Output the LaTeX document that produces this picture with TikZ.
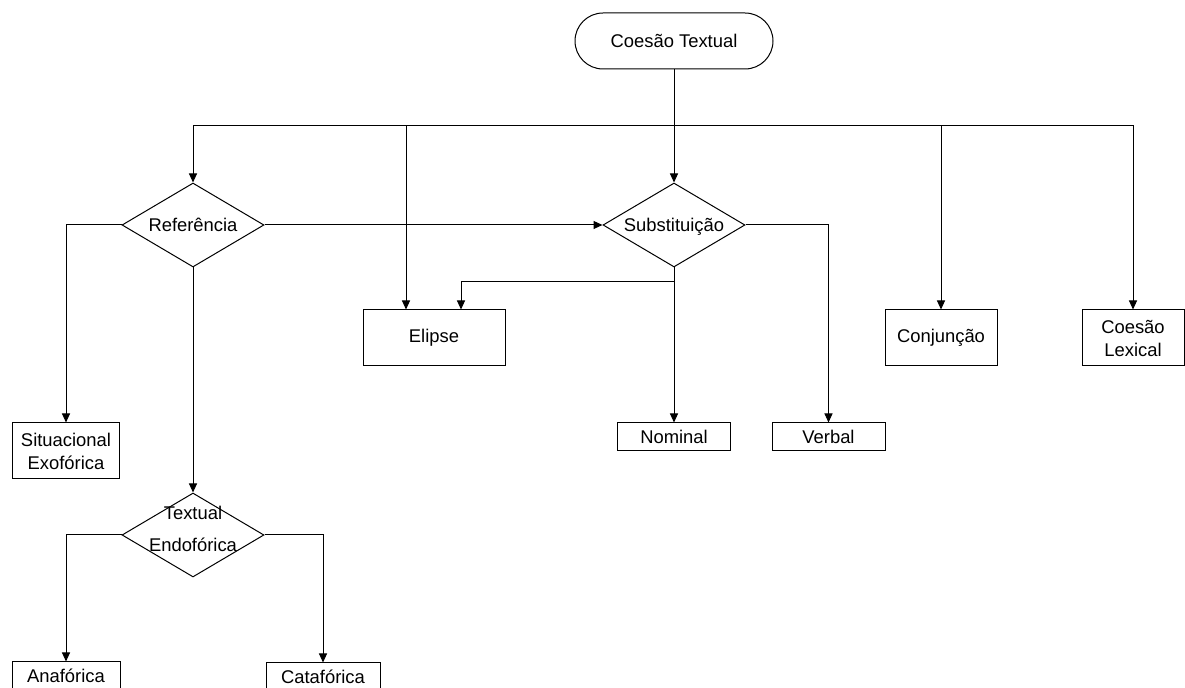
\documentclass[tikz,border=0pt]{standalone}
\usepackage{fontspec}
\setmainfont{Liberation Sans}
\usetikzlibrary{shapes.geometric,arrows.meta}

\begin{document}
\begin{tikzpicture}[
  x=0.5pt, y=-0.5pt,
  font=\fontsize{9.2}{11.5}\selectfont,
  % Node styles
  terminal/.style={rectangle, draw=black, rounded corners=14pt, minimum width=99pt, minimum height=28pt, line width=0.5pt},
  decision/.style={diamond, draw=black, inner sep=0pt, minimum width=71pt, minimum height=42pt, line width=0.5pt},
  process/.style={rectangle, draw=black, align=center, inner sep=1pt, minimum height=28pt, line width=0.5pt},
  smallbox/.style={rectangle, draw=black, align=center, inner sep=1pt, minimum height=14pt, line width=0.5pt},
  % Connector styles
  arrow/.style={line width=0.5pt, black, -{Triangle[length=4.5pt,width=4pt]}}
]
\useasboundingbox (0,0) rectangle (1185,688);

% Layer 1: Top terminal and decisions
\node[terminal] (cohesion) at (674,41) {Coesão Textual};
\node[decision, label={center:Referência}] (reference) at (193,225) {};
\node[decision, label={[yshift=-1pt]center:Substituição}] (substitution) at (674,225) {};
\node[decision, label={[align=center, yshift=3pt, font=\fontsize{9.2}{16}\selectfont]center:Textual\\Endofórica}] (textual) at (193,535) {};

% Layer 2: Boxes
\node[process, minimum width=53.5pt] (situational) at (66,451) {Situacional\\Exofórica};
\node[process, minimum width=71pt] (ellipsis) at (434,338) {Elipse};
\node[process, minimum width=56pt] (conjunction) at (941,338) {Conjunção};
\node[process, minimum width=51pt] (lexical) at (1133,338) {Coesão\\Lexical};
\node[smallbox, minimum width=56.5pt] (nominal) at (674,437) {Nominal};
\node[smallbox, minimum width=56.5pt] (verbal) at (828.5,437) {Verbal};
\node[smallbox, minimum width=54pt] (anaphoric) at (66,676) {Anafórica};
\node[smallbox, minimum width=57pt] (cataphoric) at (323,677) {Catafórica};

% Layer 3: Branch points
\coordinate (bus) at (674,126);
\coordinate (fork) at (674,282);

% Layer 4: Connectors from the top
\draw[arrow] (cohesion) -- (substitution);
\draw[arrow] (bus) -| (reference.north);
\draw[arrow] (bus) -| ([xshift=-14pt]ellipsis.north);
\draw[arrow] (bus) -| (conjunction.north);
\draw[arrow] (bus) -| (lexical.north);

% Layer 5: Connectors below the decisions
\draw[arrow] (reference.east) -- (substitution.west);
\draw[arrow] (reference.west) -| (situational.north);
\draw[arrow] (reference.south) -- (textual.north);
\draw[arrow] (substitution.south) -- (nominal.north);
\draw[arrow] (fork) -| ([xshift=13.5pt]ellipsis.north);
\draw[arrow] (substitution.east) -| (verbal.north);
\draw[arrow] (textual.west) -| (anaphoric.north);
\draw[arrow] (textual.east) -| (cataphoric.north);

\end{tikzpicture}
\end{document}
